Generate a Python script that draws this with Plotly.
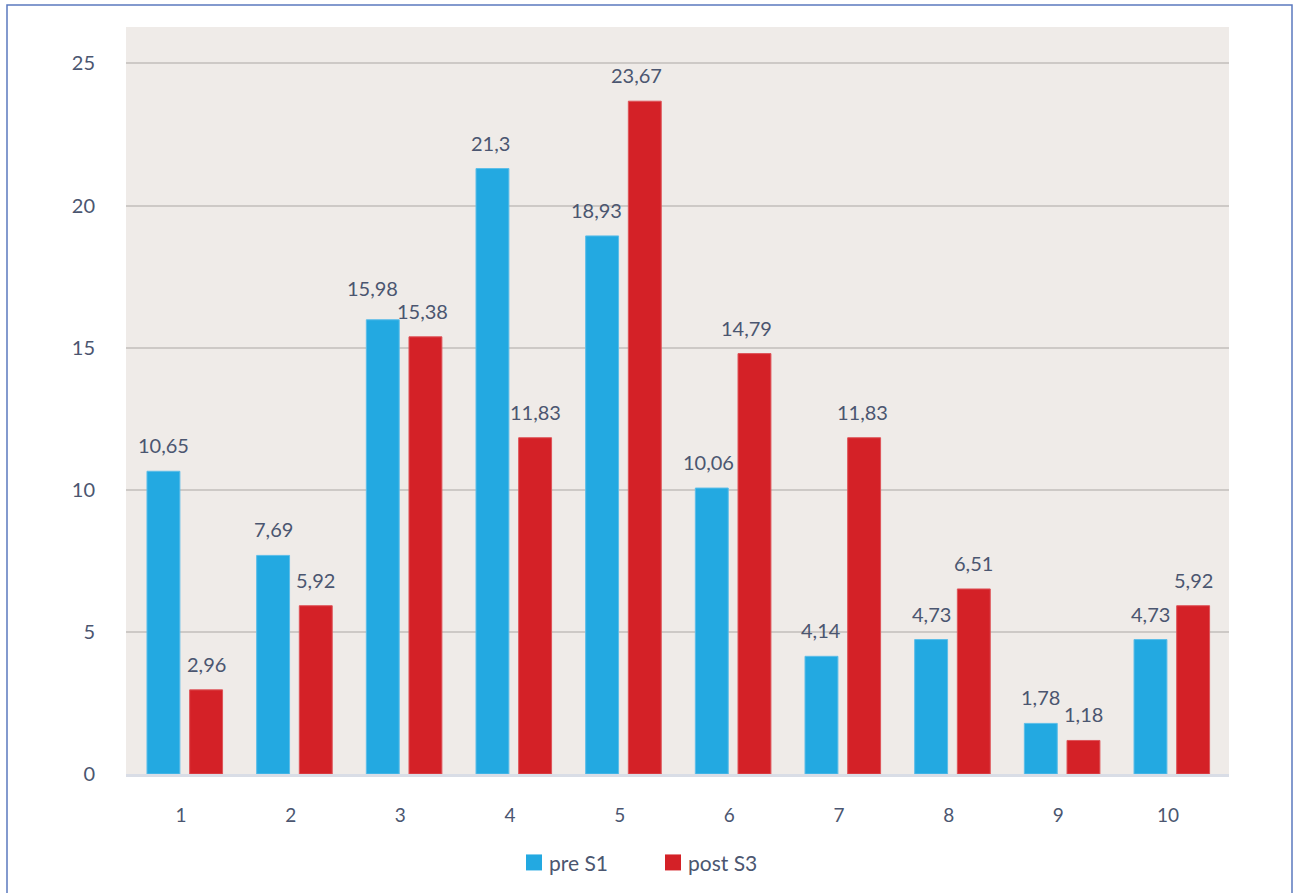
import plotly.graph_objects as go

# Survey results per score bucket: pre (S1) vs post (S3), in percent
categories = [1, 2, 3, 4, 5, 6, 7, 8, 9, 10]
pre_s1 = [10.65, 7.69, 15.98, 21.3, 18.93, 10.06, 4.14, 4.73, 1.78, 4.73]
post_s3 = [2.96, 5.92, 15.38, 11.83, 23.67, 14.79, 11.83, 6.51, 1.18, 5.92]
y_ticks = [0, 5, 10, 15, 20, 25]
series_names = ["pre S1", "post S3"]

# hand-nudged label offsets (px) where labels were moved off the default spot
pre_label_dx = [0, 0, -10, -2, -6, -3, 0, 0, 0, 0]
pre_label_dy = [0, 0, 6, 0, 0, 0, 0, 0, 0, 0]
post_label_dx = [0, 0, -3, 0, -8, -8, -2, 0, 0, 0]
post_label_dy = [0, 0, 0, 0, 0, 0, 0, 0, 0, 0]

BLUE = "#23A9E1"
RED = "#D42127"
TEXT = "#4B5670"
FONT = "Lato"

BAR_W = 0.30
OFF_PRE = -0.31
OFF_POST = 0.079

# plot area in pixels (used to place the frame and legend in paper units)
L, T, W, H = 126, 27, 1103, 747.5


def px_x(p):
    return (p - L) / W


def px_y(p):
    return (T + H - p) / H


def fmt(v):
    return f"{v:g}".replace(".", ",")


fig = go.Figure()
fig.add_trace(go.Bar(
    x=categories, y=pre_s1, name=series_names[0], width=BAR_W, offset=OFF_PRE,
    marker=dict(color=BLUE, line=dict(color="#5CBDE8", width=1)),
    showlegend=False, hoverinfo="x+y",
))
fig.add_trace(go.Bar(
    x=categories, y=post_s3, name=series_names[1], width=BAR_W, offset=OFF_POST,
    marker=dict(color=RED, line=dict(color="#DE5358", width=1)),
    showlegend=False, hoverinfo="x+y",
))

# value labels above each bar
annotations = []
for series, off, dxs, dys in [(pre_s1, OFF_PRE, pre_label_dx, pre_label_dy),
                              (post_s3, OFF_POST, post_label_dx, post_label_dy)]:
    for c, v, dx, dy in zip(categories, series, dxs, dys):
        annotations.append(dict(
            x=c + off + BAR_W / 2, y=v, xref="x", yref="y",
            text=fmt(v), showarrow=False, yanchor="bottom",
            xshift=dx, yshift=12 + dy,
            font=dict(family=FONT, size=20, color=TEXT),
        ))

shapes = []
# outer frame around the whole chart
shapes.append(dict(
    type="rect", xref="paper", yref="paper",
    x0=px_x(7), x1=px_x(1292), y0=-0.3, y1=px_y(5),
    line=dict(color="#5B79BF", width=1.5), fillcolor="rgba(0,0,0,0)",
    layer="above",
))

# legend: colour swatch followed by the series name
legend_items = [(series_names[0], BLUE, 526), (series_names[1], RED, 665)]
for name, col, x0 in legend_items:
    shapes.append(dict(
        type="rect", xref="paper", yref="paper",
        x0=px_x(x0), x1=px_x(x0 + 16), y0=px_y(871), y1=px_y(855),
        line=dict(width=0), fillcolor=col,
    ))
    annotations.append(dict(
        x=px_x(x0 + 21), y=px_y(863), xref="paper", yref="paper",
        text=name, showarrow=False, xanchor="left", yanchor="middle",
        font=dict(family=FONT, size=21, color=TEXT),
    ))

fig.update_layout(
    width=1293, height=893,
    margin=dict(l=126, r=64, t=27, b=118.5),
    paper_bgcolor="white", plot_bgcolor="#EFEBE8",
    barmode="overlay",
    showlegend=False,
    font=dict(family=FONT, color=TEXT, size=19),
    annotations=annotations,
    shapes=shapes,
    xaxis=dict(
        range=[0.4986, 10.556], tickmode="array", tickvals=categories,
        ticktext=[str(c) for c in categories],
        showgrid=False, zeroline=False, showline=True,
        linecolor="#D9DDE6", linewidth=3,
        ticks="", ticklabelstandoff=22,
        tickfont=dict(family=FONT, size=19, color=TEXT),
        fixedrange=True,
    ),
    yaxis=dict(
        range=[0, 26.28], tickmode="array", tickvals=y_ticks,
        showgrid=True, gridcolor="#CDC9C6", gridwidth=1.5,
        zeroline=False, showline=False, ticks="", ticklabelstandoff=30,
        tickfont=dict(family=FONT, size=20, color=TEXT),
        fixedrange=True,
    ),
)

fig.write_html("out.html")
